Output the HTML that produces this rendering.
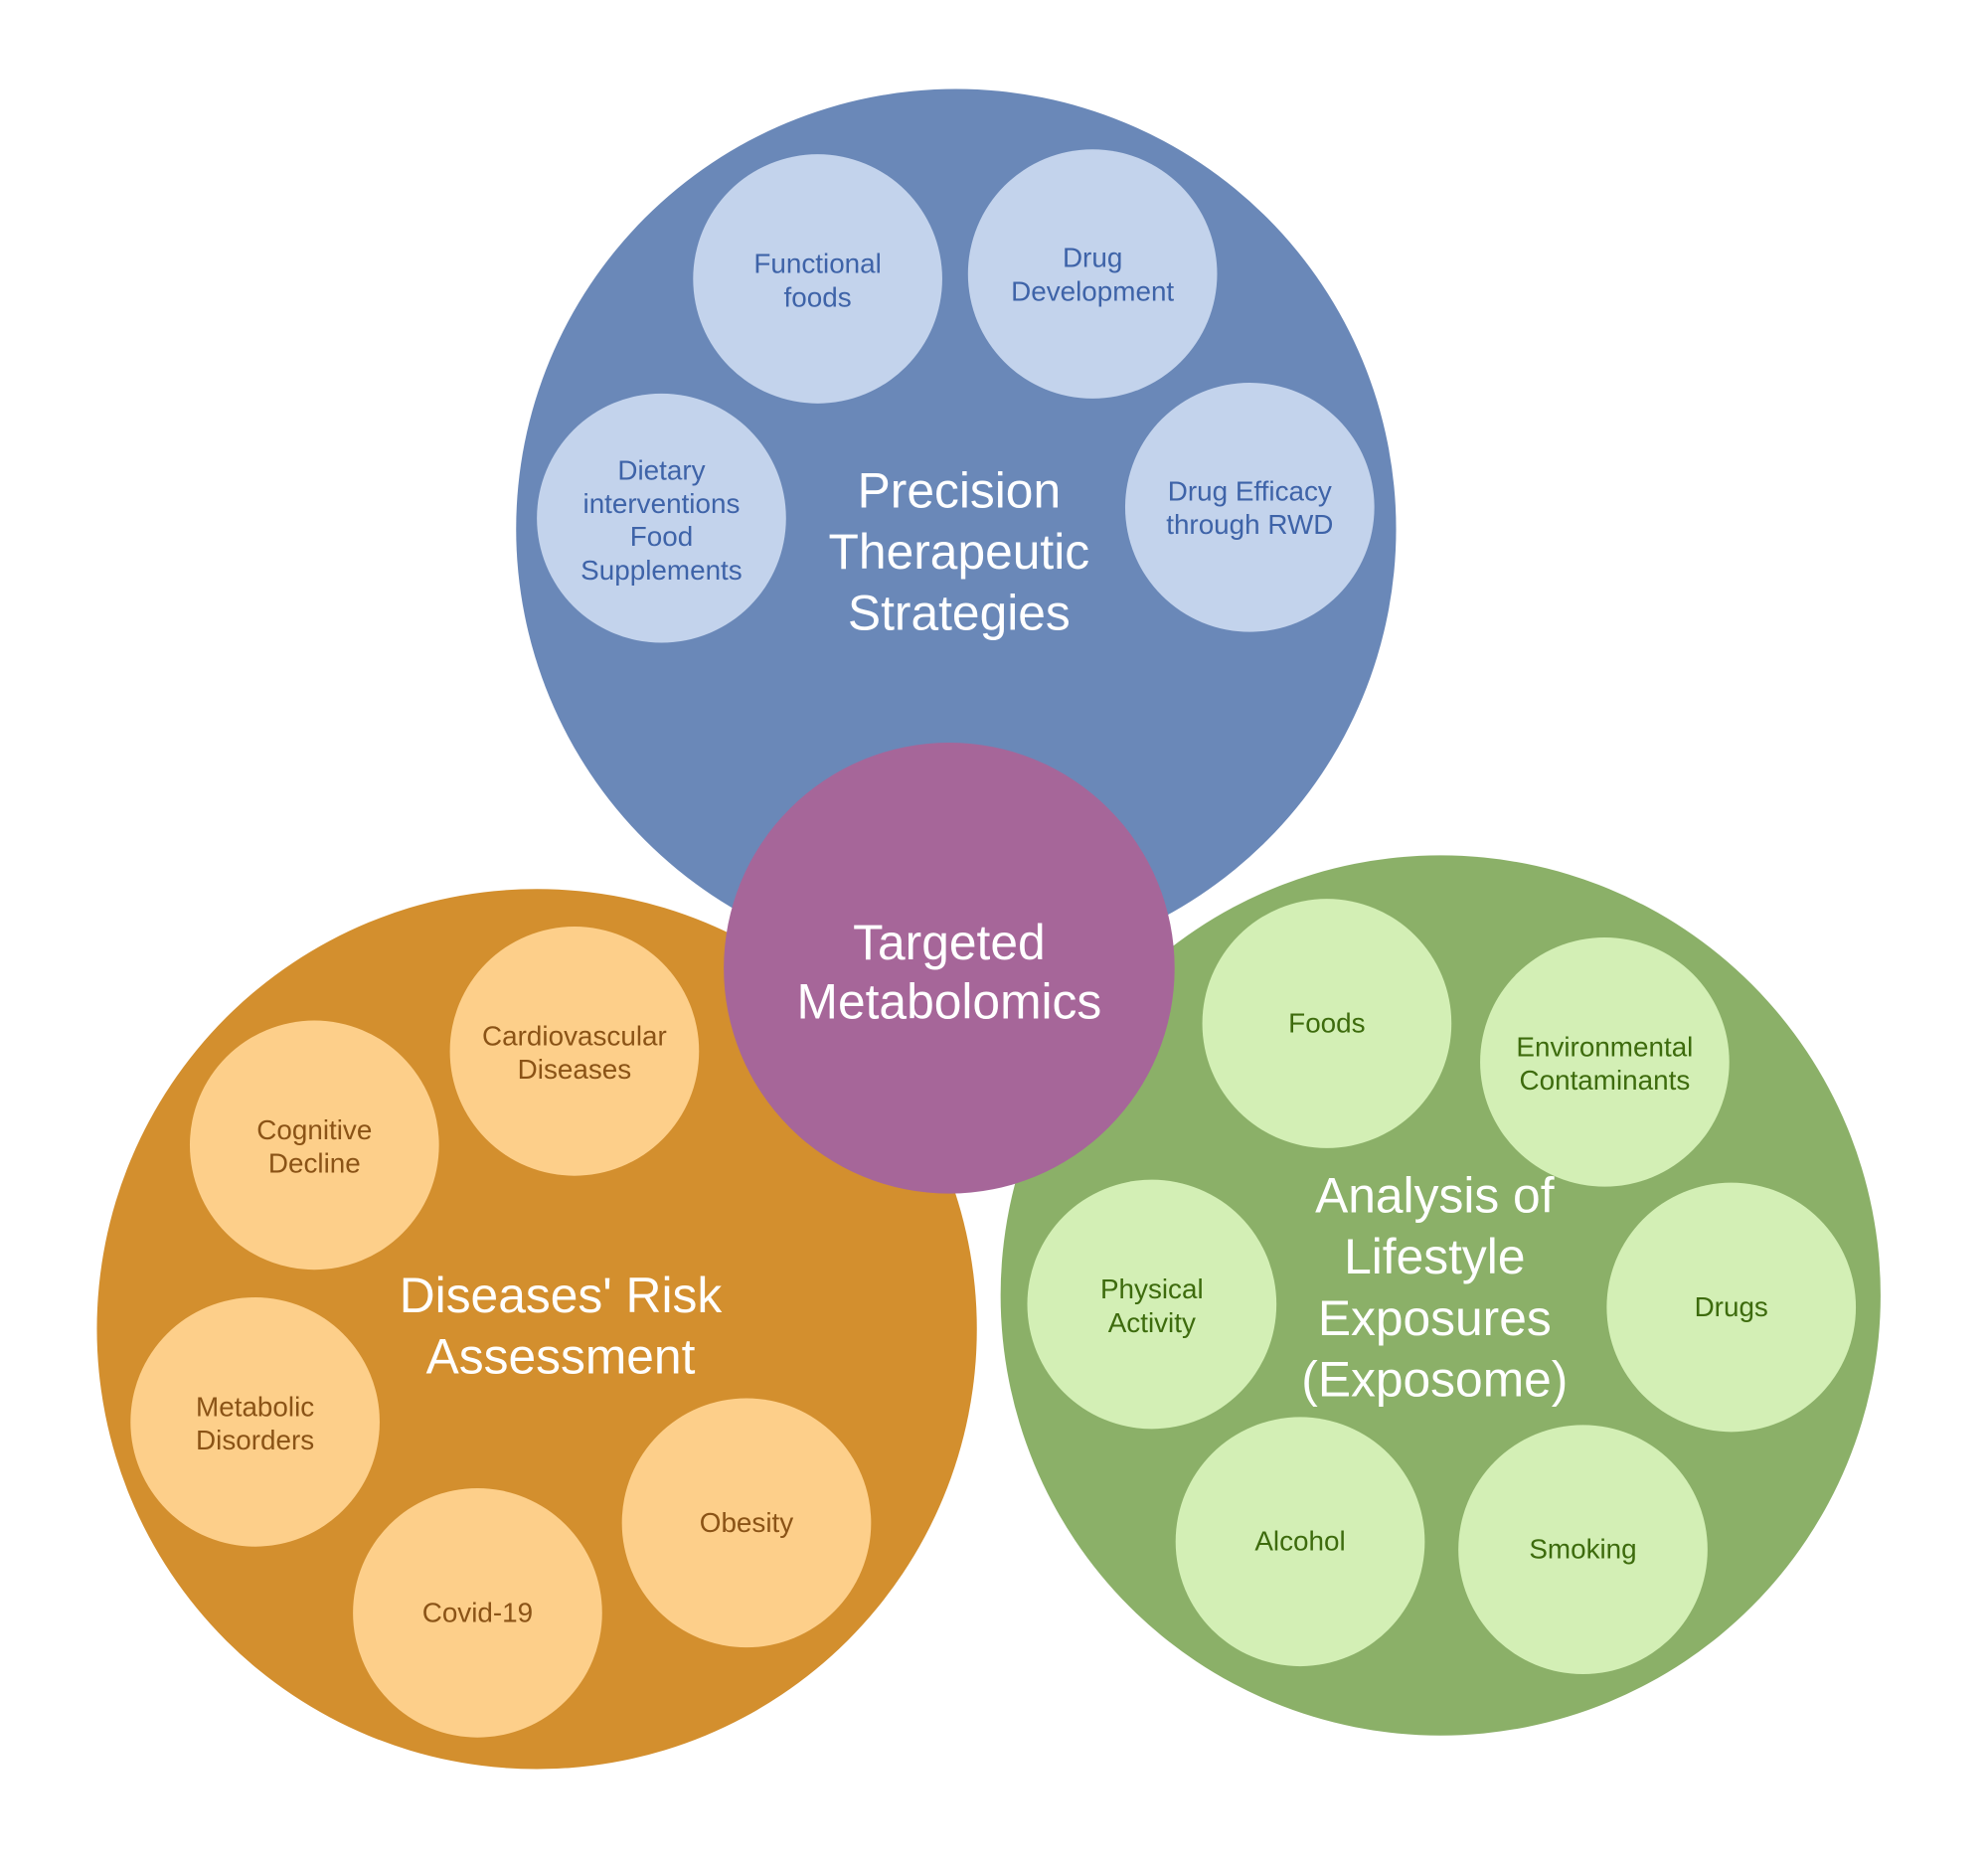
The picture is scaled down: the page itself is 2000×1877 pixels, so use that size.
<!DOCTYPE html>
<html><head><meta charset="utf-8"><style>
html,body{margin:0;padding:0;background:#fff;}
svg text{font-family:"Liberation Sans",sans-serif;text-anchor:middle;}
.big{fill:#fff;font-size:50px;}
.sb{fill:#3e63a8;font-size:28px;}
.so{fill:#8a5316;font-size:28px;}
.sg{fill:#3d6b0d;font-size:28px;}
</style></head><body>
<svg width="2000" height="1872" viewBox="0 0 2000 1872" xmlns="http://www.w3.org/2000/svg">
<rect width="2000" height="1872" fill="#fff"/>
<g transform="scale(0.9947)">
<circle cx="967" cy="535" r="445" fill="#6a88b8"/>
<circle cx="543" cy="1344" r="445" fill="#d38f2e"/>
<circle cx="1457" cy="1310" r="445" fill="#8bb068"/>

<g fill="#c3d3ec">
<circle cx="827" cy="282" r="126"/><circle cx="1105" cy="277" r="126"/>
<circle cx="669" cy="524" r="126"/><circle cx="1264" cy="513" r="126"/>
</g>
<g fill="#fdcf8a">
<circle cx="581" cy="1063" r="126"/><circle cx="318" cy="1158" r="126"/>
<circle cx="258" cy="1438" r="126"/><circle cx="483" cy="1631" r="126"/>
<circle cx="755" cy="1540" r="126"/>
</g>
<g fill="#d3efb5">
<circle cx="1342" cy="1035" r="126"/><circle cx="1623" cy="1074" r="126"/>
<circle cx="1165" cy="1319" r="126"/><circle cx="1751" cy="1322" r="126"/>
<circle cx="1315" cy="1559" r="126"/><circle cx="1601" cy="1567" r="126"/>
</g>
<circle cx="960" cy="979" r="228" fill="#a66699"/>

<text class="big" x="970" y="513">Precision</text>
<text class="big" x="970" y="575">Therapeutic</text>
<text class="big" x="970" y="637">Strategies</text>
<text class="big" x="960" y="970">Targeted</text>
<text class="big" x="960" y="1030">Metabolomics</text>
<text class="big" x="567" y="1327">Diseases' Risk</text>
<text class="big" x="567" y="1389">Assessment</text>
<text class="big" x="1451" y="1226">Analysis of</text>
<text class="big" x="1451" y="1288">Lifestyle</text>
<text class="big" x="1451" y="1350">Exposures</text>
<text class="big" x="1451" y="1412">(Exposome)</text>

<text class="sb" x="827" y="276">Functional</text><text class="sb" x="827" y="310">foods</text>
<text class="sb" x="1105" y="270">Drug</text><text class="sb" x="1105" y="304">Development</text>
<text class="sb" x="669" y="485">Dietary</text><text class="sb" x="669" y="519">interventions</text>
<text class="sb" x="669" y="552">Food</text><text class="sb" x="669" y="586">Supplements</text>
<text class="sb" x="1264" y="506">Drug Efficacy</text><text class="sb" x="1264" y="540">through RWD</text>

<text class="so" x="581" y="1057">Cardiovascular</text><text class="so" x="581" y="1091">Diseases</text>
<text class="so" x="318" y="1152">Cognitive</text><text class="so" x="318" y="1186">Decline</text>
<text class="so" x="258" y="1432">Metabolic</text><text class="so" x="258" y="1466">Disorders</text>
<text class="so" x="483" y="1640">Covid-19</text>
<text class="so" x="755" y="1549">Obesity</text>

<text class="sg" x="1342" y="1044">Foods</text>
<text class="sg" x="1623" y="1068">Environmental</text><text class="sg" x="1623" y="1102">Contaminants</text>
<text class="sg" x="1165" y="1313">Physical</text><text class="sg" x="1165" y="1347">Activity</text>
<text class="sg" x="1751" y="1331">Drugs</text>
<text class="sg" x="1315" y="1568">Alcohol</text>
<text class="sg" x="1601" y="1576">Smoking</text>
</g>
</svg>
</body></html>
